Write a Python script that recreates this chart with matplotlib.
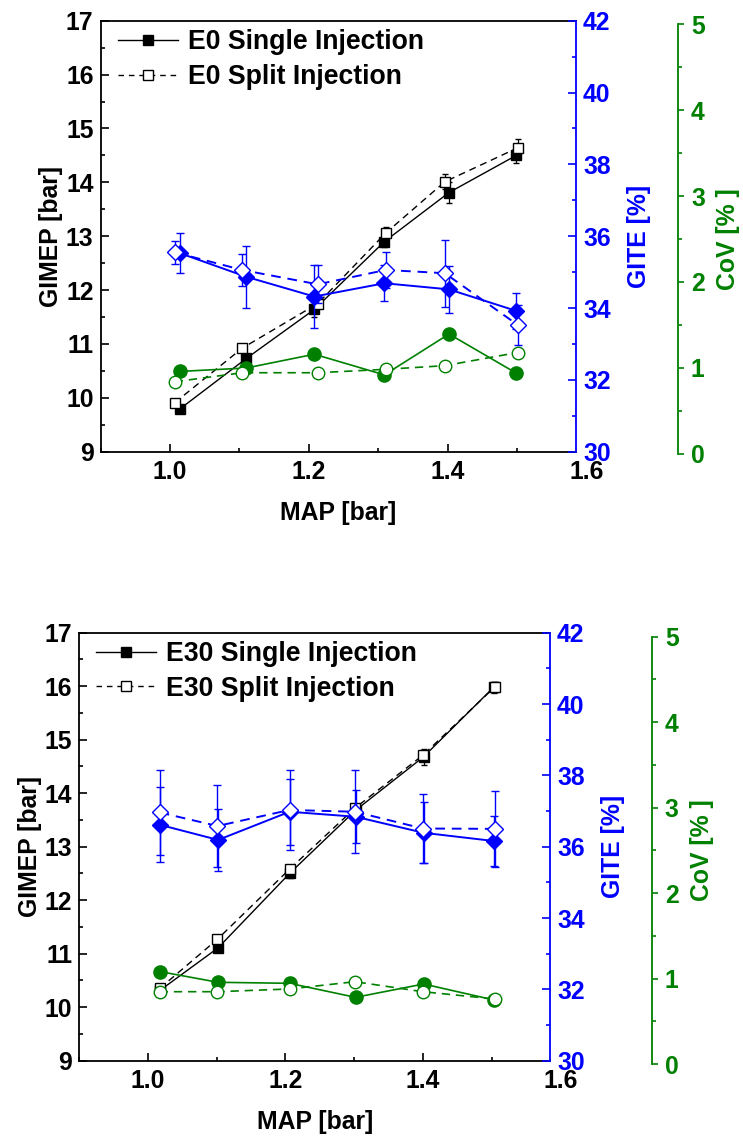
import numpy as np
import matplotlib
matplotlib.use('Agg')
import matplotlib.pyplot as plt
from matplotlib.lines import Line2D
from matplotlib.ticker import MultipleLocator

plt.rcParams['font.family'] = ['Liberation Sans', 'DejaVu Sans']
plt.rcParams['font.weight'] = 'bold'
plt.rcParams['axes.labelweight'] = 'bold'

# ---- E0 (top panel) ----
x_e0_single = [1.014, 1.110, 1.208, 1.309, 1.402, 1.499]
x_e0_split = [1.007, 1.104, 1.213, 1.311, 1.396, 1.501]
gimep_e0_single = [9.79, 10.73, 11.64, 12.90, 13.81, 14.50]
gimep_e0_single_err = [0.05, 0.06, 0.14, 0.10, 0.20, 0.14]
gimep_e0_split = [9.91, 10.92, 11.75, 13.06, 14.01, 14.64]
gimep_e0_split_err = [0.04, 0.05, 0.06, 0.11, 0.14, 0.17]
gite_e0_single = [35.53, 34.87, 34.32, 34.69, 34.52, 33.92]
gite_e0_single_err = [0.55, 0.87, 0.88, 0.50, 0.66, 0.49]
gite_e0_split = [35.55, 35.06, 34.66, 35.06, 34.97, 33.53]
gite_e0_split_err = [0.32, 0.45, 0.53, 0.51, 0.93, 0.56]
cov_e0_single = [0.96, 1.00, 1.16, 0.92, 1.395, 0.94]
cov_e0_split = [0.84, 0.945, 0.945, 0.985, 1.027, 1.18]

# ---- E30 (bottom panel) ----
x_e30_single = [1.018, 1.102, 1.206, 1.302, 1.401, 1.503]
x_e30_split = [1.017, 1.101, 1.206, 1.301, 1.400, 1.505]
gimep_e30_single = [10.32, 11.11, 12.50, 13.68, 14.68, 15.98]
gimep_e30_single_err = [0.04, 0.06, 0.08, 0.10, 0.15, 0.10]
gimep_e30_split = [10.35, 11.27, 12.58, 13.72, 14.71, 15.99]
gimep_e30_split_err = [0.04, 0.05, 0.06, 0.08, 0.10, 0.08]
gite_e30_single = [36.61, 36.19, 36.98, 36.84, 36.39, 36.16]
gite_e30_single_err = [1.05, 0.87, 0.93, 0.75, 0.86, 0.70]
gite_e30_split = [36.96, 36.58, 37.03, 36.98, 36.51, 36.50]
gite_e30_split_err = [1.18, 1.14, 1.12, 1.16, 0.98, 1.07]
cov_e30_single = [1.08, 0.956, 0.944, 0.78, 0.936, 0.75]
cov_e30_split = [0.846, 0.846, 0.878, 0.963, 0.846, 0.76]

x_ticks = [1.0, 1.2, 1.4]
x_extra_label = 1.6

W, H = 743, 1139
BLUE = '#0000ff'
GREEN = '#008000'
FS = 17.8      # ticks and axis titles
FS_LEG = 19.2  # legend
XPAD = 6


def px_rect(l, t, r, b):
    return [l / W, 1 - b / H, (r - l) / W, (b - t) / H]


def style_ticks(ax, color, direction='in'):
    ax.tick_params(axis='y', which='major', direction=direction, length=5.5, width=1.2,
                   colors=color, labelsize=FS, pad=5)
    ax.tick_params(axis='y', which='minor', direction=direction, length=3, width=1.2, colors=color)


def draw_panel(fig, rect, rect_cov, cov_pos, xs, xp, gs, gse, gp, gpe, ts, tse, tp, tpe, cs, cp, name):
    ax1 = fig.add_axes(rect)
    ax1.set_xlim(0.9, 1.585)
    ax1.set_ylim(9, 17)
    ax1.xaxis.set_major_locator(plt.FixedLocator(x_ticks))
    ax1.xaxis.set_minor_locator(MultipleLocator(0.1))
    ax1.yaxis.set_major_locator(MultipleLocator(1))
    ax1.yaxis.set_minor_locator(MultipleLocator(0.5))
    ax1.tick_params(axis='x', which='major', direction='in', length=5.5, width=1.2, labelsize=FS, pad=XPAD)
    ax1.tick_params(axis='x', which='minor', direction='in', length=3, width=1.2)
    style_ticks(ax1, 'black')
    ax1.xaxis.set_major_formatter(plt.FormatStrFormatter('%.1f'))
    # last tick label sits just past the axis end, as in the original
    ax1.annotate('%.1f' % x_extra_label, xy=(x_extra_label, 0), xycoords=('data', 'axes fraction'),
                 xytext=(0, -XPAD), textcoords='offset points', ha='center', va='top',
                 fontsize=FS, fontweight='bold', annotation_clip=False)
    for s in ax1.spines.values():
        s.set_linewidth(1.3)
    ax1.spines['right'].set_visible(False)
    ax1.set_ylabel('GIMEP [bar]', fontsize=FS, labelpad=2)
    ax1.set_xlabel('MAP [bar]', fontsize=FS, labelpad=12)

    ax1.errorbar(xs, gs, yerr=gse, color='black', marker='s', ms=7.2, lw=1.0,
                 elinewidth=0.9, capsize=2.2, zorder=3)
    ax1.errorbar(xp, gp, yerr=gpe, color='black', marker='s', ms=7.2, mfc='white', lw=1.0,
                 dashes=(5, 3.5), elinewidth=0.9, capsize=2.2, zorder=3)
    handles = [Line2D([], [], color='black', marker='s', ms=7.2, lw=1.0),
               Line2D([], [], color='black', marker='s', ms=7.2, mfc='white', lw=1.0, dashes=(4, 3.5))]
    ax1.legend(handles, [name + ' Single Injection', name + ' Split Injection'], loc='upper left',
               bbox_to_anchor=(0.036, 0.98), frameon=False, fontsize=FS_LEG, borderpad=0,
               borderaxespad=0, handlelength=2.25, handletextpad=0.38, labelspacing=0.32)

    ax2 = ax1.twinx()
    ax2.set_ylim(30, 42)
    ax2.yaxis.set_major_locator(MultipleLocator(2))
    ax2.yaxis.set_minor_locator(MultipleLocator(1))
    style_ticks(ax2, BLUE)
    for k in ['left', 'top', 'bottom']:
        ax2.spines[k].set_visible(False)
    ax2.spines['right'].set_color(BLUE)
    ax2.spines['right'].set_linewidth(1.3)
    ax2.set_ylabel('GITE [%]', color=BLUE, fontsize=FS, labelpad=12)
    ax2.errorbar(xs, ts, yerr=tse, color=BLUE, marker='D', ms=8.5, lw=1.4,
                 elinewidth=1.0, capsize=3, zorder=3)
    ax2.errorbar(xp, tp, yerr=tpe, color=BLUE, marker='D', ms=8, mfc='white', lw=1.4,
                 dashes=(5, 3.5), elinewidth=1.0, capsize=3, zorder=3)

    ax3 = fig.add_axes(rect_cov)
    ax3.patch.set_visible(False)
    ax3.set_xlim(0.9, 1.585)
    ax3.set_ylim(0, 5)
    ax3.xaxis.set_visible(False)
    for k in ['left', 'top', 'bottom']:
        ax3.spines[k].set_visible(False)
    ax3.yaxis.tick_right()
    ax3.yaxis.set_label_position('right')
    ax3.spines['right'].set_position(('axes', cov_pos))
    ax3.spines['right'].set_color(GREEN)
    ax3.spines['right'].set_linewidth(1.3)
    ax3.yaxis.set_major_locator(MultipleLocator(1))
    ax3.yaxis.set_minor_locator(MultipleLocator(0.5))
    ax3.tick_params(axis='y', which='major', direction='out', length=4.5, width=1.2,
                    colors=GREEN, labelsize=FS, pad=5)
    ax3.tick_params(axis='y', which='minor', direction='out', length=3, width=1.2, colors=GREEN)
    ax3.set_ylabel('CoV [% ]', color=GREEN, fontsize=FS, labelpad=8)
    ax3.plot(xs, cs, color=GREEN, marker='o', ms=9.5, lw=1.2)
    ax3.plot(xp, cp, color=GREEN, marker='o', ms=9, mfc='white', lw=1.2, dashes=(5, 3.5))


fig = plt.figure(figsize=(W / 100, H / 100), dpi=100)

draw_panel(fig, px_rect(100.5, 20.7, 576, 451.7), px_rect(100.5, 24, 576, 454), 1.214,
           x_e0_single, x_e0_split, gimep_e0_single, gimep_e0_single_err,
           gimep_e0_split, gimep_e0_split_err, gite_e0_single, gite_e0_single_err,
           gite_e0_split, gite_e0_split_err, cov_e0_single, cov_e0_split, 'E0')

draw_panel(fig, px_rect(79.3, 632.7, 550, 1060.7), px_rect(79.3, 636.7, 550, 1064), 1.216,
           x_e30_single, x_e30_split, gimep_e30_single, gimep_e30_single_err,
           gimep_e30_split, gimep_e30_split_err, gite_e30_single, gite_e30_single_err,
           gite_e30_split, gite_e30_split_err, cov_e30_single, cov_e30_split, 'E30')

fig.savefig('out.png', dpi=100)
